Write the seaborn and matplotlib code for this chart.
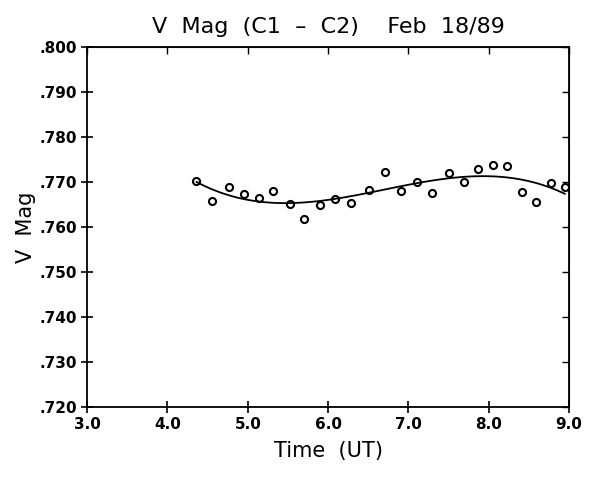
import numpy as np
import pandas as pd
import seaborn as sns
import matplotlib
matplotlib.use("Agg")
import matplotlib.pyplot as plt

time_ut = [4.36, 4.55, 4.77, 4.95, 5.14, 5.32, 5.52, 5.70, 5.90, 6.09,
           6.29, 6.51, 6.71, 6.91, 7.11, 7.30, 7.50, 7.69, 7.87, 8.06,
           8.23, 8.42, 8.59, 8.77, 8.95]
v_mag = [0.7702, 0.7657, 0.7689, 0.7673, 0.7664, 0.7680, 0.7651, 0.7618, 0.7649, 0.7662,
         0.7653, 0.7683, 0.7722, 0.7679, 0.7700, 0.7675, 0.7719, 0.7700, 0.7729, 0.7737,
         0.7735, 0.7678, 0.7656, 0.7697, 0.7688]

x_ticks = [3.0, 4.0, 5.0, 6.0, 7.0, 8.0, 9.0]
y_ticks = [0.720, 0.730, 0.740, 0.750, 0.760, 0.770, 0.780, 0.790, 0.800]

df = pd.DataFrame({"time": time_ut, "vmag": v_mag})

sns.set_style("ticks")
plt.rcParams["font.family"] = ["DejaVu Sans"]
plt.rcParams["text.color"] = "black"
plt.rcParams["axes.labelcolor"] = "black"
plt.rcParams["xtick.color"] = "black"
plt.rcParams["ytick.color"] = "black"

fig = plt.figure(figsize=(5.89, 4.80), dpi=100)
ax = fig.add_axes([0.148, 0.152, 0.818, 0.750])

# cubic fit through the points
sns.regplot(data=df, x="time", y="vmag", order=3, ci=None, scatter=False,
            truncate=True, color="black", line_kws={"linewidth": 1.3}, ax=ax)
sns.scatterplot(data=df, x="time", y="vmag", marker="o", s=26,
                facecolor="white", edgecolor="black", linewidth=1.5, ax=ax)

ax.set_xlim(3.0, 9.0)
ax.set_ylim(0.720, 0.800)
ax.set_xticks(x_ticks)
ax.set_xticklabels([f"{t:.1f}" for t in x_ticks], fontsize=11, fontweight="bold")
ax.set_yticks(y_ticks)
ax.set_yticklabels([f"{v:.3f}"[1:] for v in y_ticks], fontsize=11, fontweight="semibold")

ax.tick_params(axis="both", which="both", direction="inout", length=8, width=1.2,
               top=False, right=False, colors="black")
# inward ticks on the top and right edges
ax_top = ax.secondary_xaxis("top")
ax_top.set_xticks(x_ticks)
ax_top.tick_params(direction="in", length=5, width=1.0, labeltop=False)
ax_right = ax.secondary_yaxis("right")
ax_right.set_yticks(y_ticks)
ax_right.tick_params(direction="in", length=5, width=1.0, labelright=False)

for sp in ax.spines.values():
    sp.set_linewidth(1.3)
    sp.set_color("black")

ax.set_xlabel("Time  (UT)", fontsize=15, labelpad=6)
ax.set_ylabel("V  Mag", fontsize=15, labelpad=2)
ax.set_title("V  Mag  (C1  \u2013  C2)    Feb  18/89", fontsize=16, pad=10)

fig.savefig("out.png", dpi=100)
